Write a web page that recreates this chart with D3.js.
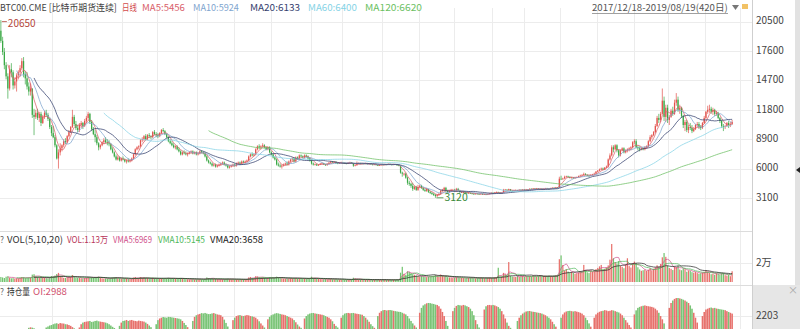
<!DOCTYPE html>
<html>
<head>
<meta charset="utf-8">
<script src="https://cdn.jsdelivr.net/npm/d3@7"></script>
<style>
  body { margin: 0; background: #fff; }
  svg { display: block; font-family: "Microsoft YaHei", "Noto Sans CJK SC", "Noto Sans", sans-serif; }
</style>
</head>
<body>
<svg id="chart" width="800" height="329"></svg>
<script>
// daily bars 2017/12/18 - 2019/08/19
const opens = [
  19600,18600,17500,16200,15100,13900,15800,15500,14200,14600,15200,15500,15900,16600,15300,14900,14100,13600,13900,11300,
  11100,11500,11000,11400,10500,11100,11500,11300,10900,10100,9500,9100,8300,7000,7600,8000,8300,8700,8600,9200,
  9600,10100,11100,10400,10000,9800,10300,10500,10200,10700,11000,11400,10600,9900,9400,9100,8500,8100,8300,8600,
  8800,8600,8500,8400,7900,7600,7200,6900,7100,6800,7000,6900,6700,6800,6700,6800,7000,7400,7900,8100,
  8200,8800,8900,9200,8900,9300,9200,9100,9600,9400,9300,9200,9500,9800,9700,9400,9100,8700,8500,8300,
  8100,8200,7900,7700,7400,7600,7500,7400,7500,7600,7700,7500,7600,7400,7500,7700,7600,7500,7200,6800,
  6600,6500,6300,6400,6200,6300,6400,6500,6600,6400,6300,6100,6200,6300,6400,6300,6500,6600,6500,6700,
  6600,6700,6800,7200,7400,7300,7400,7900,8200,8100,8200,8300,8100,7900,8100,7600,7400,7100,6900,6400,
  6300,6200,6300,6400,6500,6400,6700,6900,7000,6700,7100,7000,7300,7200,7100,7300,7200,7000,6800,6500,
  6400,6420,6310,6380,6490,6520,6410,6330,6470,6580,6690,6620,6680,6530,6490,6560,6610,6590,6520,6480,
  6570,6610,6540,6290,6320,6480,6530,6470,6510,6460,6520,6430,6480,6410,6380,6420,6340,6290,6360,6410,
  6380,6420,6390,6460,6410,6370,6430,6390,6330,6290,5600,5500,5500,5100,4600,4500,4300,4000,4200,3900,
  4200,4300,4100,3900,3800,4000,3700,3600,3500,3400,3300,3400,3500,3800,3900,4100,3800,3700,3800,3900,
  3900,3800,4000,3800,3700,3700,3700,3620,3580,3610,3560,3520,3490,3540,3510,3470,3530,3440,3490,3420,
  3480,3560,3610,3580,3640,3690,3640,3590,3620,3900,3930,3880,3970,3820,3790,3850,3890,3840,3910,3860,
  3930,3890,3940,3920,4010,3960,4030,3990,4040,3980,4020,3950,4010,4060,4020,3990,4080,4110,4070,4150,
  4120,5000,4980,5020,5180,5230,5190,5080,5120,5040,5110,5160,5260,5310,5380,5470,5390,5310,5280,5360,
  5420,5500,5700,5800,5900,6000,5900,6100,6200,6900,7300,8100,7900,8300,7800,7300,7800,8000,7600,7800,
  7900,8000,8100,8600,8700,8100,8000,7900,8000,7900,8100,8200,8700,9100,9300,9600,10200,11000,10800,11400,
  12700,11100,12000,10800,11100,11700,11400,12500,12800,11800,12000,11200,10300,10600,9800,10100,10000,9700,9900,10300,
  10400,10100,10000,10500,11000,11600,11800,11900,11600,11800,11400,11500,11000,10700,10200,10100,10200,10500,10300,10400
];
const highs = [
  20650,19000,17900,16500,15400,16200,16400,15700,15000,15400,15700,16200,16900,17000,15600,15500,14500,14400,13900,11900,
  11800,11900,11600,11600,11300,11700,11800,11500,11000,10300,10200,9300,8400,7900,8500,8400,8900,9000,9300,9800,
  10200,11800,11300,10700,10300,10500,10700,10600,10900,11200,11600,11500,10800,10100,9800,9300,8600,8400,8700,9000,
  9100,8900,8800,8500,8100,7700,7400,7300,7200,7100,7200,7000,6900,7000,6900,7100,7500,8000,8200,8300,
  8900,9100,9300,9400,9400,9500,9300,9700,9800,9600,9500,9600,9900,10000,9800,9500,9200,8900,8700,8500,
  8300,8300,8100,7800,7700,7800,7700,7600,7700,7800,7800,7700,7700,7600,7800,7800,7700,7600,7300,6900,
  6700,6600,6500,6500,6400,6500,6600,6700,6700,6500,6400,6300,6400,6500,6500,6600,6700,6700,6800,6800,
  6800,6900,7300,7500,7600,7500,8000,8300,8400,8300,8500,8400,8200,8200,8200,7700,7500,7200,7000,6600,
  6500,6400,6500,6600,6700,6800,7000,7100,7100,7200,7200,7400,7400,7300,7400,7400,7300,7100,6900,6600,
  6500,6480,6450,6550,6600,6560,6450,6520,6650,6760,6750,6730,6700,6580,6620,6680,6660,6620,6560,6630,
  6680,6640,6560,6400,6700,6600,6570,6560,6550,6580,6560,6520,6510,6450,6470,6460,6370,6410,6460,6450,
  6470,6460,6500,6480,6440,6470,6460,6420,6360,6300,5700,5600,5600,5200,4800,4600,4600,4300,4300,4400,
  4400,4400,4200,4000,4100,4000,3800,3700,3600,3500,3500,3600,3900,4000,4200,4200,3900,3900,4000,4000,
  4000,4100,4100,3900,3800,3800,3750,3680,3670,3650,3600,3560,3580,3570,3540,3570,3550,3530,3510,3530,
  3600,3660,3650,3680,3740,3720,3680,3650,4000,3990,3960,4020,3990,3870,3890,3930,3910,3960,3940,3980,
  3960,3990,3980,4050,4040,4080,4060,4090,4080,4060,4060,4050,4100,4100,4060,4110,4150,4150,4190,4180,
  5200,5300,5100,5300,5300,5300,5220,5180,5150,5200,5220,5310,5400,5450,5600,5550,5420,5380,5440,5480,
  5600,5760,5850,6000,6100,6100,6150,6300,7000,7500,8300,8300,8400,8400,7900,7900,8100,8100,7900,8000,
  8100,8200,8700,8900,8900,8300,8200,8100,8100,8200,8300,8800,9300,9400,9700,10400,11200,11400,11600,13900,
  13100,12300,12300,11300,11900,12100,12800,13450,13100,12300,12100,11300,10800,10800,10300,10500,10300,10100,10400,10600,
  10600,10300,10600,11200,11700,12200,12300,12100,12000,11900,11700,11600,11100,10800,10400,10300,10600,10700,10600,10800
];
const lows = [
  18400,17200,15800,14800,12900,13700,15000,13800,13900,13600,14800,15100,15700,15000,14300,13800,13200,13200,11000,9300,
  10900,10800,10600,10200,10400,10900,11100,10700,9900,9200,9000,8100,6900,6000,7300,7700,8100,8400,8500,9100,
  9500,10000,10200,9800,9600,9600,10000,9900,10100,10500,10800,10400,9700,9300,8600,8300,7800,7900,8200,8400,
  8500,8300,8200,7800,7500,7100,6800,6800,6700,6700,6800,6600,6500,6600,6600,6700,6900,7300,7800,7900,
  8100,8600,8700,8800,8800,9000,8900,9000,9300,9100,9000,9100,9400,9600,9300,9000,8600,8400,8200,8000,
  7900,7800,7600,7300,7300,7400,7300,7200,7400,7500,7400,7400,7300,7300,7400,7500,7400,7100,6700,6500,
  6400,6200,6200,6100,6100,6200,6300,6400,6300,6200,6000,6000,6100,6200,6200,6200,6400,6400,6400,6500,
  6500,6600,6700,7100,7200,7200,7300,7800,7900,7900,8100,8000,7800,7800,7500,7300,7000,6800,6300,6200,
  6100,6000,6200,6300,6300,6300,6600,6700,6600,6600,6900,6900,7100,7000,7000,7100,6900,6700,6400,6300,
  6330,6260,6280,6350,6440,6370,6270,6300,6420,6530,6560,6580,6480,6440,6460,6530,6540,6470,6440,6450,
  6520,6490,6180,6250,6300,6440,6430,6430,6420,6430,6400,6400,6380,6340,6350,6310,6250,6270,6330,6340,
  6350,6360,6370,6370,6330,6340,6360,6300,6240,5500,5200,5300,5000,4400,4300,4100,3800,3900,3800,3800,
  4100,4000,3800,3700,3700,3600,3500,3400,3300,3120,3200,3300,3400,3700,3800,3700,3600,3600,3700,3800,
  3700,3700,3800,3600,3600,3600,3560,3530,3550,3510,3470,3440,3450,3470,3430,3440,3400,3410,3380,3390,
  3450,3520,3540,3550,3600,3600,3560,3550,3580,3850,3830,3850,3790,3740,3760,3820,3800,3810,3820,3830,
  3850,3860,3890,3900,3920,3930,3950,3960,3950,3960,3920,3930,3980,3990,3960,3970,4050,4040,4050,4080,
  4100,4900,4900,5000,5120,5130,5030,5040,4980,5020,5080,5140,5220,5280,5340,5330,5240,5220,5250,5330,
  5370,5480,5650,5750,5850,5850,5850,6050,6100,6800,7200,7600,7800,7600,7100,7200,7700,7500,7500,7600,
  7700,7800,8000,8400,8000,7800,7700,7800,7800,7800,8000,8100,8600,8900,9200,9500,10100,10500,10600,11300,
  10700,10600,10500,10300,11000,11200,11300,12200,11600,11400,11000,10000,9700,9600,9500,9800,9500,9600,9800,10100,
  9900,9800,9900,10400,10900,11400,11500,11400,11300,11200,11200,10900,10500,10000,9700,9900,10100,10000,10100,10300
];
const closes = [
  18600,17500,16200,15100,13900,15800,15500,14200,14600,15200,15500,15900,16600,15300,14900,14100,13600,13900,11300,11100,
  11500,11000,11400,10500,11100,11500,11300,10900,10100,9500,9100,8300,7000,7600,8000,8300,8700,8600,9200,9600,
  10100,11100,10400,10000,9800,10300,10500,10200,10700,11000,11400,10600,9900,9400,9100,8500,8100,8300,8600,8800,
  8600,8500,8400,7900,7600,7200,6900,7100,6800,7000,6900,6700,6800,6700,6800,7000,7400,7900,8100,8200,
  8800,8900,9200,8900,9300,9200,9100,9600,9400,9300,9200,9500,9800,9700,9400,9100,8700,8500,8300,8100,
  8200,7900,7700,7400,7600,7500,7400,7500,7600,7700,7500,7600,7400,7500,7700,7600,7500,7200,6800,6600,
  6500,6300,6400,6200,6300,6400,6500,6600,6400,6300,6100,6200,6300,6400,6300,6500,6600,6500,6700,6600,
  6700,6800,7200,7400,7300,7400,7900,8200,8100,8200,8300,8100,7900,8100,7600,7400,7100,6900,6400,6300,
  6200,6300,6400,6500,6400,6700,6900,7000,6700,7100,7000,7300,7200,7100,7300,7200,7000,6800,6500,6400,
  6420,6310,6380,6490,6520,6410,6330,6470,6580,6690,6620,6680,6530,6490,6560,6610,6590,6520,6480,6570,
  6610,6540,6290,6320,6480,6530,6470,6510,6460,6520,6430,6480,6410,6380,6420,6340,6290,6360,6410,6380,
  6420,6390,6460,6410,6370,6430,6390,6330,6290,5600,5500,5500,5100,4600,4500,4300,4000,4200,3900,4200,
  4300,4100,3900,3800,4000,3700,3600,3500,3400,3300,3400,3500,3800,3900,4100,3800,3700,3800,3900,3900,
  3800,4000,3800,3700,3700,3700,3620,3580,3610,3560,3520,3490,3540,3510,3470,3530,3440,3490,3420,3480,
  3560,3610,3580,3640,3690,3640,3590,3620,3900,3930,3880,3970,3820,3790,3850,3890,3840,3910,3860,3930,
  3890,3940,3920,4010,3960,4030,3990,4040,3980,4020,3950,4010,4060,4020,3990,4080,4110,4070,4150,4120,
  5000,4980,5020,5180,5230,5190,5080,5120,5040,5110,5160,5260,5310,5380,5470,5390,5310,5280,5360,5420,
  5500,5700,5800,5900,6000,5900,6100,6200,6900,7300,8100,7900,8300,7800,7300,7800,8000,7600,7800,7900,
  8000,8100,8600,8700,8100,8000,7900,8000,7900,8100,8200,8700,9100,9300,9600,10200,11000,10800,11400,12700,
  11100,12000,10800,11100,11700,11400,12500,12800,11800,12000,11200,10300,10600,9800,10100,10000,9700,9900,10300,10400,
  10100,10000,10500,11000,11600,11800,11900,11600,11800,11400,11500,11000,10700,10200,10100,10200,10500,10300,10400,10600
];
const volumes = [
  5300,4800,4200,5600,6100,4500,3900,4100,3600,3800,3700,4400,5200,4900,4100,4300,4600,4800,7800,8200,
  5600,5000,4700,5200,4600,4300,4100,3800,4900,6200,5900,6800,8400,9600,6200,5100,4400,4300,5000,5400,
  5200,7400,5600,4500,4200,4400,3900,3700,4100,4500,5300,4700,5000,4600,4800,5200,5600,4300,3900,3600,
  3800,3500,3300,4200,4600,4900,5100,3800,3900,3400,3200,3500,3600,3100,2900,3100,4700,5300,4200,3900,
  5100,4300,4600,4200,4000,3600,3400,4400,3900,3500,3300,3400,3900,3700,3600,3800,4300,3900,3600,3700,
  3500,3700,3800,4100,3600,3200,3000,2900,2700,2800,2900,2600,2800,2700,3000,2800,2600,3100,4800,4200,
  3600,3500,3300,3200,3000,2900,2800,2700,2900,3100,3400,3000,2800,2600,2500,2700,2600,2500,2900,2800,
  2900,3000,4800,5300,4300,3900,6100,5800,4900,4400,4700,4200,4000,4100,5000,4600,4400,4200,5600,4700,
  4100,3900,3600,3300,3200,3700,4300,4100,3900,4200,3600,3800,3500,3300,3600,3400,3600,3900,5600,4200,
  3800,3400,3300,3100,2900,3000,3200,2900,3100,3300,2800,2700,2900,2600,2500,2400,2600,2500,2300,2400,
  2500,2600,4500,3800,3000,2600,2500,2400,2300,2200,2400,2300,2200,2100,2300,2200,2400,2300,2100,2200,
  2300,2200,2400,2300,2200,2400,2300,2500,2600,9800,16000,8600,7600,11200,10500,9400,8100,7600,6900,6100,
  5600,6000,5800,5300,5100,5500,5800,6100,6600,7300,6200,5400,7800,6600,5900,6400,5100,4800,4600,4200,
  4400,5000,4800,4500,4300,4100,3900,4200,4400,4700,4200,4000,3800,4100,4300,4600,4400,3900,4100,4300,
  4500,4200,4000,4800,5100,15000,4300,5600,9600,8200,7100,21000,6500,5800,5600,5300,6100,5400,5900,6300,
  5700,6000,5500,6200,5800,6600,6100,5700,6300,6800,5900,6400,6100,5800,6600,6200,5900,6500,7100,7600,
  24000,28000,18000,12000,13500,11000,9800,10500,9600,8700,9200,9900,11200,10600,18000,12400,10200,9400,11600,10800,
  12200,13600,14800,16500,18000,12500,13800,15200,17500,23500,41000,25000,21000,19500,22000,17000,16000,14500,18500,25000,
  16800,15200,19600,21500,20000,15500,13200,11800,12400,13000,11600,12800,14600,12200,14000,15400,17600,16200,19000,26000,
  30500,26500,17400,14800,13900,12600,16400,15800,17200,13200,12400,14200,13500,10800,12100,11800,10400,9800,10500,9400,
  8600,9200,9800,10600,12400,10800,9600,8200,8800,7600,9200,8600,7800,9100,9400,7200,6800,7400,6100,11300
];
const openInterest = [
  380,450,520,610,680,740,800,860,920,980,1040,1100,1150,1200,1260,1300,1480,1510,1490,1450,1380,1300,1200,1100,900,800,
  1500,1560,1620,1650,1700,1740,1760,1720,1770,1750,1740,1700,1690,1650,1600,1520,1450,
  900,700,
  1500,1700,1800,1840,1860,1880,1900,1840,1860,1900,1920,1880,1860,1840,1820,1800,1760,1700,1620,1540,1470,
  800,700,
  1600,1800,1900,1920,1960,1900,1940,1960,1920,1900,1880,1920,1900,1880,1860,1800,1720,1620,1520,
  900,800,
  1700,1950,2050,2100,2140,2120,2100,2150,2140,2120,2100,2080,2060,2040,2000,1900,1780,1650,1520,
  900,800,
  1900,2150,2250,2300,2330,2380,2360,2390,2350,2320,2330,2360,2380,2340,2300,2280,2250,2150,1980,1780,1560,
  1000,800,
  1950,2100,2200,2240,2260,2220,2200,2230,2260,2240,2200,2180,2150,2100,2000,1880,1750,1620,1500,
  900,
  2000,2150,2250,2300,2350,2380,2360,2330,2300,2280,2250,2200,2150,2100,2050,1950,1820,1680,1560,1480,
  900,
  2050,2200,2300,2350,2380,2390,2360,2340,2320,2300,2280,2250,2200,2150,2100,2000,1880,1720,1600,1500,
  800,
  2100,2250,2350,2380,2390,2370,2380,2390,2360,2340,2320,2300,2280,2200,2100,1980,1850,1700,1580,1480,
  900,
  2200,2400,2500,2560,2570,2540,2560,2570,2550,2520,2500,2480,2460,2450,2400,2350,2300,2200,2050,1900,1750,1620,1500,
  900,
  2400,2700,2850,2920,2980,3000,2990,2960,2940,2900,2880,2800,2650,2450,2200,1900,1600,
  900,700,
  2500,2700,2820,2880,2860,2840,2880,2850,2800,2750,2650,2500,2250,1950,1700,1500,
  900,700,
  2600,2800,2870,2880,2860,2880,2850,2800,2750,2650,2500,2300,2050,1800,1600,1480,
  1000,800,700,
  1900,2100,2250,2350,2420,2480,2500,2510,2480,2460,2450,2420,2400,2380,2350,2300,2250,2180,2100,2000,1850,1700,1550,
  900,700,
  2100,2300,2420,2480,2510,2520,2500,2480,2500,2470,2440,2400,2350,2250,2100,1950,1750,1550,
  800,
  2100,2300,2400,2460,2500,2520,2560,2540,2500,2520,2560,2540,2500,2460,2420,2350,2250,2100,1950,1800,1650,1500,
  900,
  2300,2550,2700,2760,2800,2830,2850,2820,2800,2780,2760,2720,2650,2550,2400,2200,2000,1750,
  900,700,
  2700,3000,3150,3250,3300,3320,3280,3250,3200,3150,3080,3000,2850,2650,2400,2100,1800,
  900,700,
  2200,2450,2600,2650,2700,2720,2680,2700,2660,2640,2620,2600,2580,2560,2500,2450,2400,2350
];
const priceTicks = [3100, 6000, 8900, 11800, 14700, 17600, 20500];
const monthGridBars = [30, 49, 70, 90, 113, 134, 155, 178, 196, 219, 240, 260, 282, 300, 321, 342, 363, 383, 404, 424];
const maPeriods = [5, 10, 20, 60, 120];
const maColors = ['#d9606a', '#7fa6cf', '#34406e', '#86d3e6', '#6cbf63'];
const vmaPeriods = [5, 10, 20];
const vmaColors = ['#d0508a', '#4fb85a', '#222222'];

[opens, highs, lows, closes, volumes, openInterest].forEach((a, k) => {
  if (a.length !== 420) throw new Error('array ' + k + ' has ' + a.length);
});

const upColor = '#e2524c', downColor = '#3aa845';
const svg = d3.select('#chart');
const n = closes.length;

const x = d3.scaleLinear().domain([0, n]).range([0, 733]);
const step = x(1) - x(0);
const cx = i => x(i + 0.5);
const yPrice = d3.scaleLinear().domain([3100, 20500]).range([198, 21.6]);
const yVol = d3.scaleLinear().domain([0, 20000]).range([282, 263]);
const yOI = d3.scaleLinear().domain([0, 2203]).range([352, 316]);

function movingAverage(values, p) {
  return values.map((v, i) => i < p - 1 ? null : d3.mean(values.slice(i - p + 1, i + 1)));
}
const isUp = i => closes[i] >= opens[i];

// text row helper: each item scaled horizontally to the width it has in the picture
function textRow(items, y) {
  const t = svg.append('g').selectAll('text').data(items).enter().append('text')
    .attr('y', 0).attr('dominant-baseline', 'middle')
    .attr('font-size', 9.5).attr('fill', d => d.c)
    .text(d => d.t);
  t.each(function(d) {
    const natural = this.getComputedTextLength();
    d3.select(this).attr('transform', `translate(${d.x},${y}) scale(${d.w / natural},1)`);
  });
}

// grid
const grid = svg.append('g').attr('stroke', '#ececec').attr('stroke-width', 1);
grid.selectAll('line.v').data(monthGridBars).enter().append('line')
  .attr('x1', d => Math.round(x(d)) + 0.5).attr('x2', d => Math.round(x(d)) + 0.5)
  .attr('y1', 8).attr('y2', 329);
grid.selectAll('line.h').data(priceTicks).enter().append('line')
  .attr('x1', 0).attr('x2', 752)
  .attr('y1', d => Math.round(yPrice(d)) + 0.5).attr('y2', d => Math.round(yPrice(d)) + 0.5);
grid.append('line').attr('x1', 0).attr('x2', 752).attr('y1', Math.round(yVol(20000)) + 0.5).attr('y2', Math.round(yVol(20000)) + 0.5);
grid.append('line').attr('x1', 0).attr('x2', 752).attr('y1', Math.round(yOI(2203)) + 0.5).attr('y2', Math.round(yOI(2203)) + 0.5);

// panel separators and right axis area
svg.append('rect').attr('x', 752).attr('y', 285).attr('width', 48).attr('height', 44).attr('fill', '#e6e6e6');
svg.append('rect').attr('x', 795).attr('y', 0).attr('width', 5).attr('height', 285).attr('fill', '#e2e2e2');
svg.append('line').attr('x1', 0).attr('x2', 752).attr('y1', 231.5).attr('y2', 231.5).attr('stroke', '#dcdcdc');
svg.append('line').attr('x1', 0).attr('x2', 752).attr('y1', 285.5).attr('y2', 285.5).attr('stroke', '#dcdcdc');
svg.append('line').attr('x1', 752.5).attr('x2', 752.5).attr('y1', 0).attr('y2', 329).attr('stroke', '#cfcfcf');

// clips
const defs = svg.append('defs');
defs.append('clipPath').attr('id', 'clipPrice').append('rect').attr('x', 0).attr('y', 12).attr('width', 752).attr('height', 218);
defs.append('clipPath').attr('id', 'clipVol').append('rect').attr('x', 0).attr('y', 244).attr('width', 752).attr('height', 40);
defs.append('clipPath').attr('id', 'clipOI').append('rect').attr('x', 0).attr('y', 298).attr('width', 752).attr('height', 40);

// candles
const bodyW = Math.max(1, step * 0.7);
const price = svg.append('g').attr('clip-path', 'url(#clipPrice)');
const candle = price.selectAll('g.c').data(d3.range(n)).enter().append('g');
candle.append('line')
  .attr('x1', i => cx(i)).attr('x2', i => cx(i))
  .attr('y1', i => yPrice(Math.max(highs[i], opens[i], closes[i])))
  .attr('y2', i => yPrice(Math.min(lows[i], opens[i], closes[i])))
  .attr('stroke', i => isUp(i) ? upColor : downColor).attr('stroke-width', 0.7);
candle.append('rect')
  .attr('x', i => cx(i) - bodyW / 2).attr('width', bodyW)
  .attr('y', i => yPrice(Math.max(opens[i], closes[i])))
  .attr('height', i => Math.max(0.8, Math.abs(yPrice(opens[i]) - yPrice(closes[i]))))
  .attr('fill', i => isUp(i) ? upColor : downColor);

// moving averages
maPeriods.forEach((p, k) => {
  const ma = movingAverage(closes, p);
  price.append('path').datum(ma)
    .attr('fill', 'none').attr('stroke', maColors[k]).attr('stroke-width', 0.75)
    .attr('d', d3.line().defined(d => d != null).x((d, i) => cx(i)).y(d => yPrice(d)));
});

// high / low markers
const hiIdx = d3.maxIndex(highs), loIdx = d3.minIndex(lows);
svg.append('line').attr('x1', cx(hiIdx) + 1).attr('x2', cx(hiIdx) + 6).attr('y1', yPrice(highs[hiIdx]) + 1.5).attr('y2', yPrice(highs[hiIdx]) + 1.5).attr('stroke', '#b5473a').attr('stroke-width', 0.8);
svg.append('text').attr('x', cx(hiIdx) + 7).attr('y', yPrice(highs[hiIdx]) + 4).attr('dominant-baseline', 'middle')
  .attr('font-size', 10).attr('fill', '#b5473a').text(highs[hiIdx]);
svg.append('line').attr('x1', cx(loIdx) + 1).attr('x2', cx(loIdx) + 8).attr('y1', yPrice(lows[loIdx])).attr('y2', yPrice(lows[loIdx])).attr('stroke', '#3a8a3a').attr('stroke-width', 0.8);
svg.append('text').attr('x', cx(loIdx) + 9).attr('y', yPrice(lows[loIdx])).attr('dominant-baseline', 'middle')
  .attr('font-size', 10.5).attr('fill', '#3a8a3a').text(lows[loIdx]);

// price axis labels
svg.append('g').selectAll('text').data(priceTicks).enter().append('text')
  .attr('x', 756).attr('y', d => yPrice(d)).attr('dominant-baseline', 'middle')
  .attr('font-size', 10).attr('fill', '#444').text(d => d);

// volume
const vol = svg.append('g').attr('clip-path', 'url(#clipVol)');
vol.selectAll('rect').data(d3.range(n)).enter().append('rect')
  .attr('x', i => cx(i) - bodyW / 2).attr('width', bodyW)
  .attr('y', i => yVol(volumes[i])).attr('height', i => yVol(0) - yVol(volumes[i]))
  .attr('fill', i => isUp(i) ? '#e8716b' : '#72c46f');
vmaPeriods.forEach((p, k) => {
  vol.append('path').datum(movingAverage(volumes, p))
    .attr('fill', 'none').attr('stroke', vmaColors[k]).attr('stroke-width', 0.7)
    .attr('d', d3.line().defined(d => d != null).x((d, i) => cx(i)).y(d => yVol(d)));
});
svg.append('text').attr('x', 756).attr('y', yVol(20000)).attr('dominant-baseline', 'middle')
  .attr('font-size', 10).attr('fill', '#444').text('2万');

// open interest
const oi = svg.append('g').attr('clip-path', 'url(#clipOI)');
oi.selectAll('rect').data(d3.range(n)).enter().append('rect')
  .attr('x', i => cx(i) - step * 0.45).attr('width', step * 0.9)
  .attr('y', i => yOI(openInterest[i])).attr('height', i => yOI(0) - yOI(openInterest[i]))
  .attr('fill', i => isUp(i) ? '#e7716c' : '#79c476');
svg.append('text').attr('x', 756).attr('y', yOI(2203)).attr('dominant-baseline', 'middle')
  .attr('font-size', 10).attr('fill', '#444').text('2203');
svg.append('text').attr('x', 788).attr('y', 291).attr('dominant-baseline', 'middle')
  .attr('font-size', 10).attr('fill', '#aaa').text('×');
svg.append('path').attr('d', 'M796,170 L800,167 L800,173 Z').attr('fill', '#222');

// headers
textRow([
  { t: 'BTC00.CME [比特币期货连续]', x: 0, w: 117, c: '#444' },
  { t: '日线', x: 122, w: 15, c: '#d24b4b' },
  { t: 'MA5:5456', x: 142, w: 43, c: maColors[0] },
  { t: 'MA10:5924', x: 193, w: 46, c: maColors[1] },
  { t: 'MA20:6133', x: 250, w: 50, c: maColors[2] },
  { t: 'MA60:6400', x: 308, w: 49, c: maColors[3] },
  { t: 'MA120:6620', x: 365, w: 57, c: maColors[4] },
  { t: '2017/12/18-2019/08/19(420日)', x: 592, w: 136, c: '#555' }
], 8);
svg.append('line').attr('x1', 592).attr('x2', 728).attr('y1', 13.5).attr('y2', 13.5).attr('stroke', '#888').attr('stroke-width', 0.8);
svg.append('path').attr('d', 'M732,5 L739,5 L735.5,10 Z').attr('fill', '#777');
svg.append('rect').attr('x', 742).attr('y', 4).attr('width', 6).attr('height', 5).attr('fill', '#f2c265');

textRow([
  { t: '?', x: 0, w: 4, c: '#666' },
  { t: 'VOL(5,10,20)', x: 7, w: 56, c: '#333' },
  { t: 'VOL:1.13万', x: 67, w: 41, c: '#b8365a' },
  { t: 'VMA5:6969', x: 113, w: 39, c: vmaColors[0] },
  { t: 'VMA10:5145', x: 158, w: 47, c: vmaColors[1] },
  { t: 'VMA20:3658', x: 210, w: 53, c: vmaColors[2] }
], 240);

textRow([
  { t: '?', x: 0, w: 4, c: '#666' },
  { t: '持仓量', x: 7, w: 23, c: '#333' },
  { t: 'OI:2988', x: 33, w: 34, c: '#d0506e' }
], 292);
</script>
</body>
</html>
